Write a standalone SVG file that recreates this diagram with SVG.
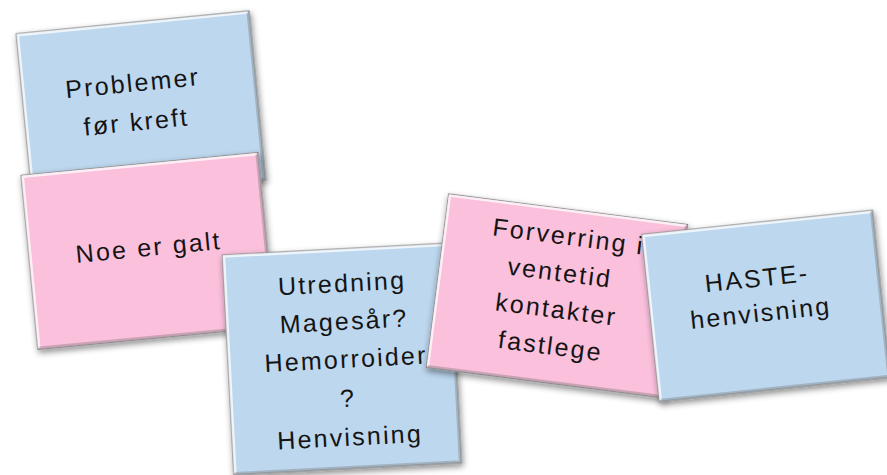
<svg xmlns="http://www.w3.org/2000/svg" width="887" height="475" viewBox="0 0 887 475">
  <defs>
    <filter id="shadow" x="-15%" y="-15%" width="130%" height="135%">
      <feDropShadow dx="1" dy="3" stdDeviation="3" flood-color="#000" flood-opacity="0.45"/>
    </filter>
    <style>
      .card { stroke: #8e8e8e; stroke-width: 1.2; filter: url(#shadow); }
      .blue { fill: #BDD7EE; }
      .pink { fill: #FBC0DC; }
      .hl { fill: none; stroke: #ffffff; stroke-opacity: 0.75; stroke-width: 2.5; }
      .sh { fill: none; stroke: #6f6f6f; stroke-opacity: 0.35; stroke-width: 2.5; }
      .t { font-family: "Liberation Sans", Arial, sans-serif; font-size: 25px; fill: #141414; text-anchor: middle; letter-spacing: 2.2px; }
    </style>
  </defs>
  <rect width="887" height="475" fill="#ffffff"/>
  <g id="connectors"/>

  <g id="card-problemer" transform="translate(141,107) rotate(-5.6)">
    <rect class="card blue" x="-117" y="-85" width="234" height="170"/>
    <path class="hl" d="M-115.5,83.5 V-83.5 H115.5"/>
    <path class="sh" d="M-115.5,83.5 H115.5 V-83.5"/>
    <text class="t"><tspan x="-6" y="-16">Problemer</tspan><tspan x="-6" y="23">før kreft</tspan></text>
  </g>

  <g id="card-noe" transform="translate(148,251) rotate(-5.5)">
    <rect class="card pink" x="-119" y="-87.5" width="238" height="175"/>
    <path class="hl" d="M-117.5,86 V-86 H117.5"/>
    <path class="sh" d="M-117.5,86 H117.5 V-86"/>
    <text class="t"><tspan x="1" y="5">Noe er galt</tspan></text>
  </g>

  <g id="card-utredning" transform="translate(342,359) rotate(-3)">
    <rect class="card blue" x="-114" y="-110" width="228" height="220"/>
    <path class="hl" d="M-112.5,108.5 V-108.5 H112.5"/>
    <path class="sh" d="M-112.5,108.5 H112.5 V-108.5"/>
    <text class="t"><tspan x="4" y="-67">Utredning</tspan><tspan x="4" y="-29">Magesår?</tspan><tspan x="4" y="9">Hemorroider</tspan><tspan x="4" y="48">?</tspan><tspan x="4" y="87">Henvisning</tspan></text>
  </g>

  <g id="card-forverring" transform="translate(557,296) rotate(7.3)">
    <rect class="card pink" x="-120.5" y="-87.5" width="241" height="175"/>
    <path class="hl" d="M-119,86 V-86 H119"/>
    <path class="sh" d="M-119,86 H119 V-86"/>
    <text class="t"><tspan x="4" y="-52">Forverring i</tspan><tspan x="0" y="-15">ventetid</tspan><tspan x="1" y="22">kontakter</tspan><tspan x="0" y="59">fastlege</tspan></text>
  </g>

  <g id="card-haste" transform="translate(766,306) rotate(-6)">
    <rect class="card blue" x="-116" y="-84" width="232" height="168"/>
    <path class="hl" d="M-114.5,82.5 V-82.5 H114.5"/>
    <path class="sh" d="M-114.5,82.5 H114.5 V-82.5"/>
    <text class="t"><tspan x="-6" y="-20">HASTE-</tspan><tspan x="-6" y="15">henvisning</tspan></text>
  </g>
</svg>
